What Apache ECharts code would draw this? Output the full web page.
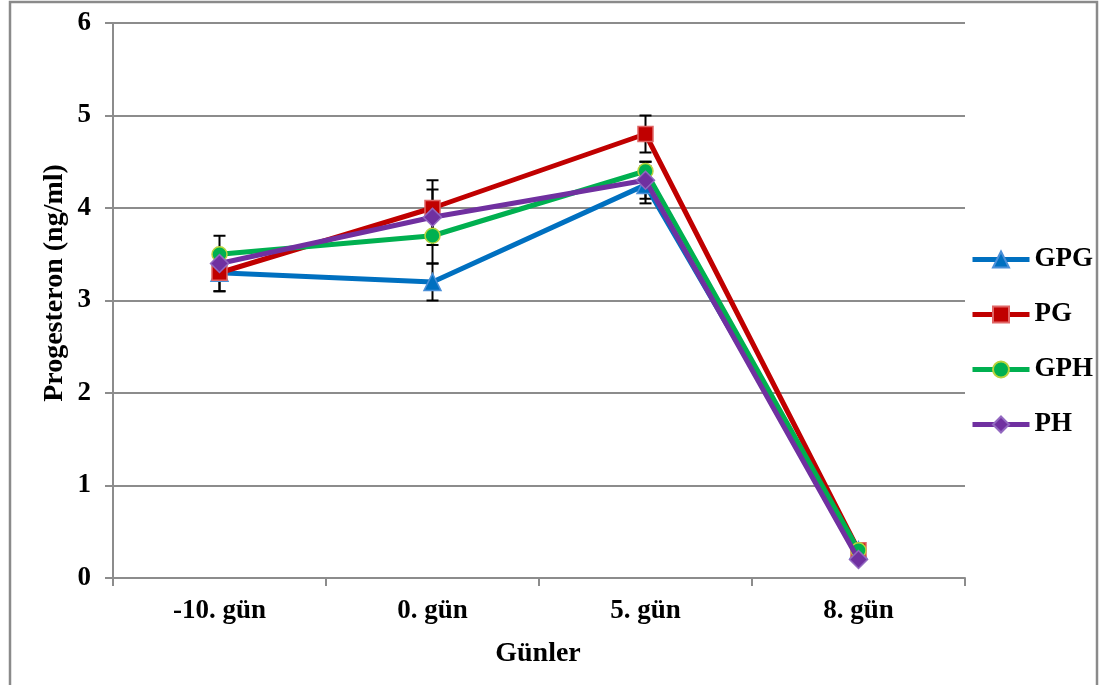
<!DOCTYPE html>
<html>
<head>
<meta charset="utf-8">
<script src="https://cdn.jsdelivr.net/npm/echarts@6/dist/echarts.min.js"></script>
<style>
  html, body { margin: 0; padding: 0; background: #fff; }
  #chart { width: 1101px; height: 685px; }
</style>
</head>
<body>
<div id="chart"></div>
<script>
// Sampling days and progesterone means (ng/ml) per group
const categories = ['-10. gün', '0. gün', '5. gün', '8. gün'];
const seriesNames = ['GPG', 'PG', 'GPH', 'PH'];
const gpgValues = [3.3, 3.2, 4.25, 0.3];
const pgValues  = [3.3, 4.0, 4.8, 0.3];
const gphValues = [3.5, 3.7, 4.4, 0.3];
const phValues  = [3.4, 3.9, 4.3, 0.2];
// Error bar half-widths (± ng/ml)
const gpgErr = [0.2, 0.2, 0.2, 0];
const pgErr  = [0.2, 0.3, 0.2, 0];
const gphErr = [0.2, 0.3, 0.1, 0];
const phErr  = [0.1, 0.3, 0.2, 0];
const yTicks = [0, 1, 2, 3, 4, 5, 6];

const FONT = "'Liberation Serif', 'Times New Roman', serif";
const GRID_COLOR = '#8c8c8c';

const styles = [
  { color: '#0070C0', border: '#4a8fd8', symbol: 'triangle', size: 17 },
  { color: '#C00000', border: '#e06666', symbol: 'rect', size: 15 },
  { color: '#00B050', border: '#b9d33c', symbol: 'circle', size: 15 },
  { color: '#7030A0', border: '#9268c0', symbol: 'diamond', size: 18 }
];
const allValues = [gpgValues, pgValues, gphValues, phValues];
const allErrs = [gpgErr, pgErr, gphErr, phErr];

function errorBarItem(params, api) {
  const x = api.value(0), v = api.value(1), e = api.value(2);
  if (!e) return null;
  const top = api.coord([x, v + e]);
  const bot = api.coord([x, v - e]);
  const hw = 6;
  const st = { stroke: '#000', lineWidth: 2 };
  return {
    type: 'group',
    children: [
      { type: 'line', shape: { x1: top[0], y1: top[1], x2: bot[0], y2: bot[1] }, style: st },
      { type: 'line', shape: { x1: top[0] - hw, y1: top[1], x2: top[0] + hw, y2: top[1] }, style: st },
      { type: 'line', shape: { x1: bot[0] - hw, y1: bot[1], x2: bot[0] + hw, y2: bot[1] }, style: st }
    ]
  };
}

const series = [];
seriesNames.forEach((name, i) => {
  series.push({
    name: name + ' hata',
    type: 'custom',
    z: 1,
    renderItem: errorBarItem,
    data: allValues[i].map((v, k) => [k, v, allErrs[i][k]]),
    silent: true,
    animation: false
  });
});
seriesNames.forEach((name, i) => {
  const s = styles[i];
  series.push({
    name: name,
    type: 'line',
    z: 2 + i,
    data: allValues[i],
    symbol: s.symbol,
    symbolSize: s.size,
    showAllSymbol: true,
    lineStyle: { color: s.color, width: 5 },
    itemStyle: { color: s.color, borderColor: s.border, borderWidth: 1.5 },
    animation: false
  });
});

const chart = echarts.init(document.getElementById('chart'));
chart.setOption({
  backgroundColor: '#fff',
  animation: false,
  grid: { left: 113, right: 136, top: 23, bottom: 107, containLabel: false },
  legend: {
    data: seriesNames,
    orient: 'vertical',
    left: 965,
    top: 241,
    padding: 5,
    itemWidth: 57,
    itemHeight: 20,
    itemGap: 28,
    lineStyle: { width: 5 },
    textStyle: { fontFamily: FONT, fontWeight: 'bold', fontSize: 27, color: '#000', lineHeight: 26 }
  },
  xAxis: {
    type: 'category',
    data: categories,
    boundaryGap: true,
    axisLine: { lineStyle: { color: GRID_COLOR, width: 2 } },
    axisTick: { show: true, length: 8, inside: false, alignWithLabel: false, lineStyle: { color: GRID_COLOR, width: 2 } },
    axisLabel: { fontFamily: FONT, fontWeight: 'bold', fontSize: 27, color: '#000', margin: 20 },
    splitLine: { show: false }
  },
  yAxis: {
    type: 'value',
    min: yTicks[0],
    max: yTicks[yTicks.length - 1],
    interval: 1,
    axisLine: { show: true, lineStyle: { color: GRID_COLOR, width: 2 } },
    axisTick: { show: true, length: 8, lineStyle: { color: GRID_COLOR, width: 2 } },
    axisLabel: { fontFamily: FONT, fontWeight: 'bold', fontSize: 27, color: '#000', margin: 22 },
    splitLine: { show: true, lineStyle: { color: GRID_COLOR, width: 2 } }
  },
  graphic: [
    {
      type: 'rect',
      z: -10,
      shape: { x: 10, y: 2, width: 1087, height: 720 },
      style: { fill: 'none', stroke: '#8a8a8a', lineWidth: 2.5 }
    },
    {
      type: 'text',
      x: 55, y: 283,
      rotation: Math.PI / 2,
      style: {
        text: 'Progesteron (ng/ml)',
        fontFamily: FONT, fontWeight: 'bold', fontSize: 28, fill: '#000',
        align: 'center', verticalAlign: 'middle'
      }
    },
    {
      type: 'text',
      x: 538, y: 654,
      style: {
        text: 'Günler',
        fontFamily: FONT, fontWeight: 'bold', fontSize: 28, fill: '#000',
        align: 'center', verticalAlign: 'middle'
      }
    }
  ],
  series: series
});
</script>
</body>
</html>
